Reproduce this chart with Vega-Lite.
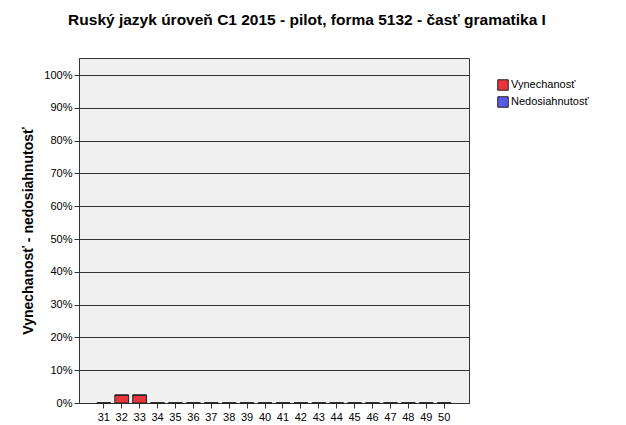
{
  "$schema": "https://vega.github.io/schema/vega-lite/v6.json",
  "width": 390,
  "height": 345,
  "autosize": "none",
  "padding": {"left": 79, "top": 58, "right": 157, "bottom": 22},
  "background": "white",
  "title": {
    "text": "Ruský jazyk úroveň C1 2015 - pilot, forma 5132 - časť gramatika I",
    "font": "Liberation Sans",
    "fontSize": 15.5,
    "fontWeight": "bold",
    "color": "black",
    "anchor": "middle",
    "dx": 33,
    "offset": 30
  },
  "config": {
    "view": {"fill": "#f0f0f0", "stroke": "#333333", "strokeWidth": 1},
    "axis": {"labelFont": "Liberation Sans", "titleFont": "Liberation Sans", "labelColor": "black", "titleColor": "black", "domainColor": "#333333", "tickColor": "#333333"}
  },
  "data": {
    "values": [
      {"k": "31", "s": "Vynechanosť", "v": 0}, {"k": "31", "s": "Nedosiahnutosť", "v": 0},
      {"k": "32", "s": "Vynechanosť", "v": 0.024}, {"k": "32", "s": "Nedosiahnutosť", "v": 0},
      {"k": "33", "s": "Vynechanosť", "v": 0.024}, {"k": "33", "s": "Nedosiahnutosť", "v": 0},
      {"k": "34", "s": "Vynechanosť", "v": 0}, {"k": "34", "s": "Nedosiahnutosť", "v": 0},
      {"k": "35", "s": "Vynechanosť", "v": 0}, {"k": "35", "s": "Nedosiahnutosť", "v": 0},
      {"k": "36", "s": "Vynechanosť", "v": 0}, {"k": "36", "s": "Nedosiahnutosť", "v": 0},
      {"k": "37", "s": "Vynechanosť", "v": 0}, {"k": "37", "s": "Nedosiahnutosť", "v": 0},
      {"k": "38", "s": "Vynechanosť", "v": 0}, {"k": "38", "s": "Nedosiahnutosť", "v": 0},
      {"k": "39", "s": "Vynechanosť", "v": 0}, {"k": "39", "s": "Nedosiahnutosť", "v": 0},
      {"k": "40", "s": "Vynechanosť", "v": 0}, {"k": "40", "s": "Nedosiahnutosť", "v": 0},
      {"k": "41", "s": "Vynechanosť", "v": 0}, {"k": "41", "s": "Nedosiahnutosť", "v": 0},
      {"k": "42", "s": "Vynechanosť", "v": 0}, {"k": "42", "s": "Nedosiahnutosť", "v": 0},
      {"k": "43", "s": "Vynechanosť", "v": 0}, {"k": "43", "s": "Nedosiahnutosť", "v": 0},
      {"k": "44", "s": "Vynechanosť", "v": 0}, {"k": "44", "s": "Nedosiahnutosť", "v": 0},
      {"k": "45", "s": "Vynechanosť", "v": 0}, {"k": "45", "s": "Nedosiahnutosť", "v": 0},
      {"k": "46", "s": "Vynechanosť", "v": 0}, {"k": "46", "s": "Nedosiahnutosť", "v": 0},
      {"k": "47", "s": "Vynechanosť", "v": 0}, {"k": "47", "s": "Nedosiahnutosť", "v": 0},
      {"k": "48", "s": "Vynechanosť", "v": 0}, {"k": "48", "s": "Nedosiahnutosť", "v": 0},
      {"k": "49", "s": "Vynechanosť", "v": 0}, {"k": "49", "s": "Nedosiahnutosť", "v": 0},
      {"k": "50", "s": "Vynechanosť", "v": 0}, {"k": "50", "s": "Nedosiahnutosť", "v": 0}
    ]
  },
  "mark": {"type": "bar", "stroke": "#222222", "strokeWidth": 1},
  "encoding": {
    "x": {
      "field": "k", "type": "ordinal", "sort": null,
      "scale": {"paddingInner": 0.23, "paddingOuter": 1.2},
      "axis": {"title": null, "labelAngle": 0, "labelFontSize": 11, "tickSize": 5, "labelPadding": 3, "domainColor": "#333333"}
    },
    "y": {
      "field": "v", "type": "quantitative", "stack": "zero",
      "scale": {"domain": [0, 1.052], "nice": false},
      "axis": {
        "title": "Vynechanosť - nedosiahnutosť",
        "titleFontSize": 14, "titleFontWeight": "bold", "titlePadding": 8,
        "format": ".0%", "values": [0, 0.1, 0.2, 0.3, 0.4, 0.5, 0.6, 0.7, 0.8, 0.9, 1.0],
        "labelFontSize": 11, "tickSize": 5, "labelPadding": 2,
        "grid": true, "gridColor": "#333333", "gridOpacity": 1, "gridWidth": 1
      }
    },
    "color": {
      "field": "s", "type": "nominal",
      "sort": ["Vynechanosť", "Nedosiahnutosť"],
      "scale": {"domain": ["Vynechanosť", "Nedosiahnutosť"], "range": ["#e8353b", "#5a5ae8"]},
      "legend": {
        "title": null, "orient": "none", "legendX": 418, "legendY": 21,
        "symbolType": "square", "symbolSize": 110, "symbolStrokeColor": "#222222", "symbolStrokeWidth": 1,
        "labelFont": "Liberation Sans", "labelFontSize": 11, "labelColor": "black",
        "rowPadding": 1, "labelOffset": 2
      }
    },
    "order": {"field": "s", "sort": "descending"}
  }
}
